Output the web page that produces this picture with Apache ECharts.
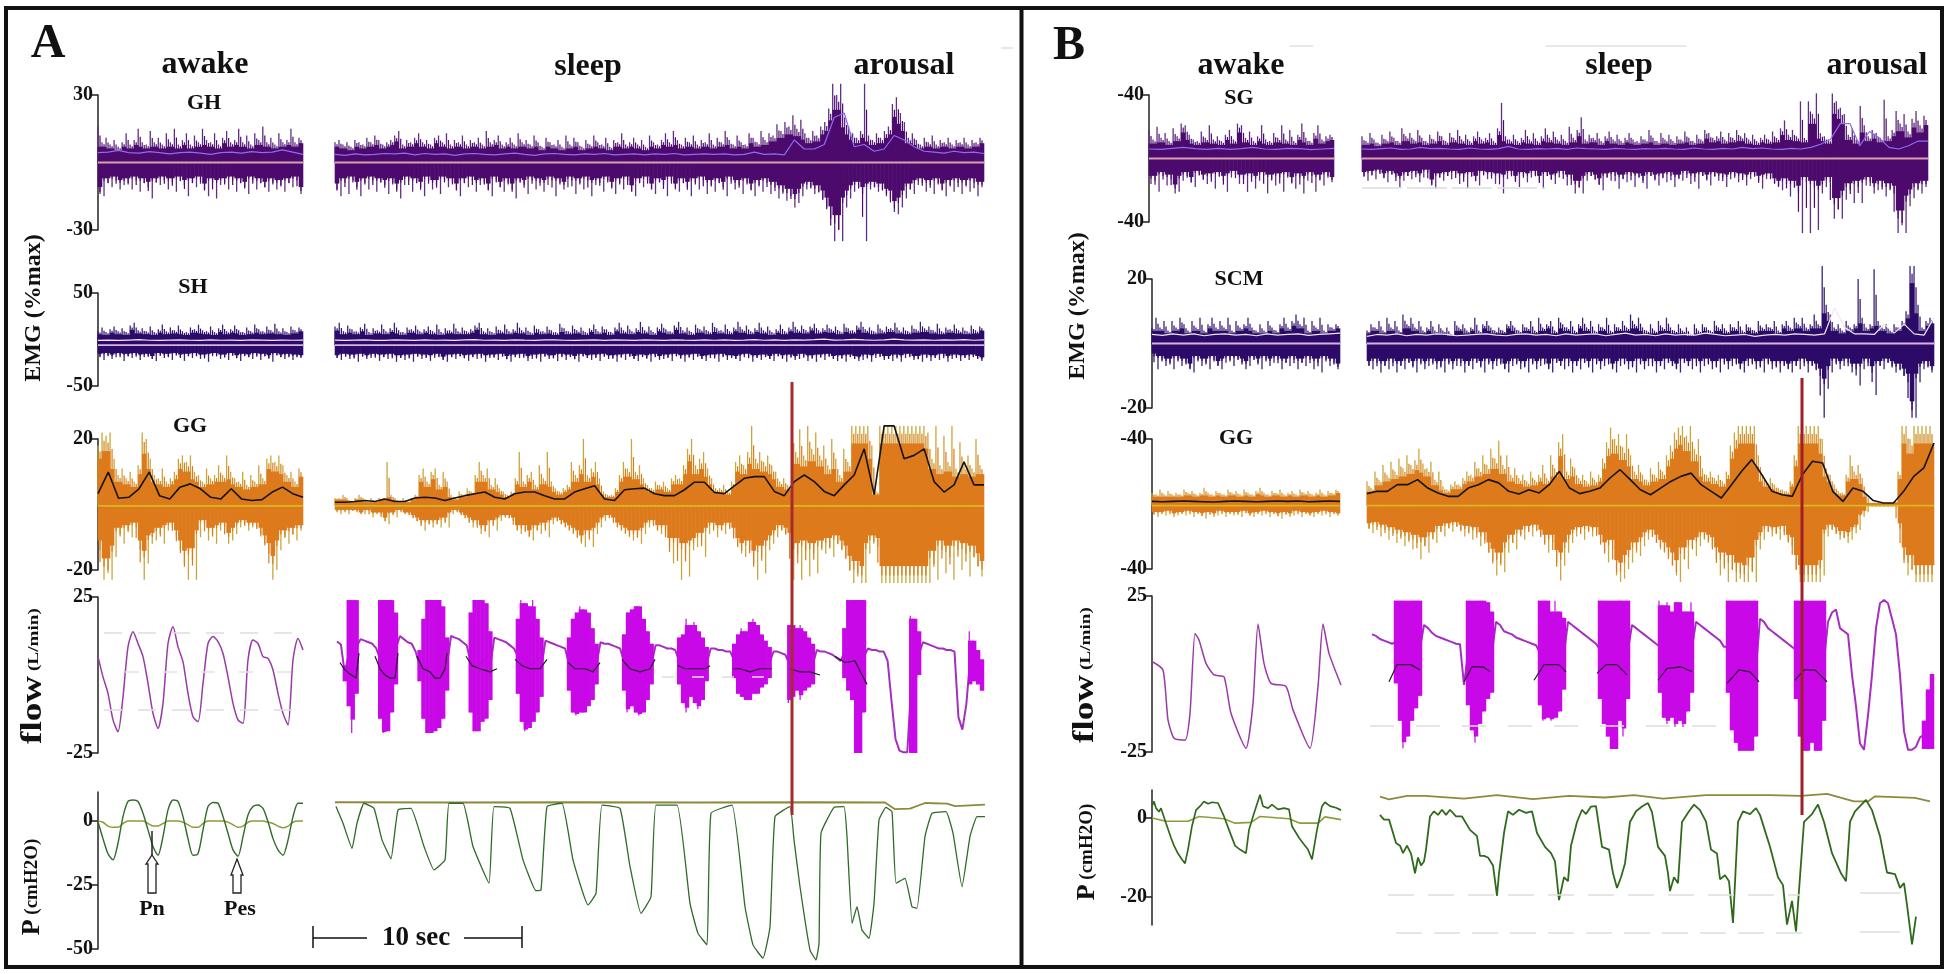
<!DOCTYPE html>
<html><head><meta charset="utf-8">
<style>html,body{margin:0;padding:0;background:#fff}#c{width:1950px;height:974px}</style>
<script src="https://cdn.jsdelivr.net/npm/echarts@6/dist/echarts.min.js"></script>
</head><body><div id="c"></div>
<script>
// ---------- Panel A : geniohyoid (GH), %max
const ghAwakeHi=[16,9,11,8,10,7,9,13,8,10,15,9,8,14,9,11,8,13,9,15,8,10,13,8,12,9,15,10,9,13,8,11,14,9,10,15,9,12,8,13,10,16,9,11,8,13,9,10,15,9,11];
const ghAwakeLo=[-14,-15,-9,-11,-8,-12,-10,-9,-12,-8,-13,-9,-11,-16,-9,-10,-8,-12,-9,-13,-8,-10,-15,-9,-11,-8,-12,-15,-9,-16,-10,-9,-12,-8,-13,-9,-11,-14,-8,-12,-9,-11,-13,-9,-12,-10,-13,-9,-11,-8,-14];
const ghSleepHi=[9,10,8,9,7,10,9,8,11,9,12,10,8,9,10,12,14,8,10,9,11,13,9,10,8,11,12,9,13,8,10,9,12,8,10,9,11,8,14,9,
10,12,8,9,11,8,13,9,10,8,12,9,7,11,9,8,10,7,12,8,11,9,7,10,8,12,9,8,11,7,10,9,13,8,9,11,8,10,7,12,
9,8,10,13,9,14,10,8,11,9,12,8,10,9,13,8,11,9,14,10,8,12,9,8,13,11,9,14,10,13,12,17,14,18,16,21,15,19,13,11,
14,12,16,18,24,35,30,35,20,16,13,11,14,35,12,10,13,11,14,16,26,29,22,18,11,13,10,8,11,9,12,8,10,9,11,8,10,9,11,8,10,9,11];
const ghSleepLo=[-12,-15,-9,-14,-8,-11,-15,-9,-12,-8,-13,-9,-10,-14,-9,-12,-16,-10,-8,-13,-9,-11,-15,-8,-12,-10,-14,-8,-11,-9,-12,-15,-9,-11,-8,-13,-10,-9,-12,-15,
-8,-11,-13,-9,-12,-16,-9,-10,-14,-8,-12,-9,-13,-10,-8,-15,-9,-12,-11,-8,-14,-9,-12,-8,-15,-10,-9,-13,-8,-11,-14,-9,-12,-8,-13,-15,-9,-11,-8,-12,
-14,-9,-10,-15,-8,-12,-13,-9,-11,-15,-9,-12,-8,-14,-10,-13,-9,-11,-15,-8,-12,-10,-14,-9,-12,-15,-10,-13,-9,-14,-11,-16,-13,-17,-15,-20,-18,-15,-12,-11,
-14,-13,-16,-20,-25,-35,-30,-35,-20,-16,-13,-11,-14,-35,-12,-11,-13,-12,-15,-16,-22,-23,-20,-16,-12,-14,-10,-9,-13,-10,-14,-9,-12,-15,-10,-13,-9,-14,-10,-13,-9,-15,-11];
const ghAwakeRms=[4.4,4.6,5.4,4.4,4.2,4.8,4.4,3.8,4.4,4.6,4.2,3.6,4.4,4.6,4.2,4.8,4.4,4.6,5.6,4.6,3.6];
const ghSleepRms=[3.6,3.2,3.8,3.4,3.6,4,3.8,4.2,3.4,4,3.6,3.8,3.2,3.8,4,3.6,3.4,3.8,4.2,3.6,3.2,3.8,4,3.6,3.4,3.8,3.6,4,3.4,3.6,3.8,3.4,3.8,3.6,4,3.4,3.6,3.8,3.6,3.8,3.4,3.6,4.6,3.6,3.8,3.4,10,6,6,8,20,22,7,8,5,6,12,10,7,5,4.6,4.2,5,4.4,4.6,4];
// SH
const shAwakeHi=[9,13,8,11,14,9,12,8,15,18,10,12,9,14,8,11,16,9,13,10,15,9,8,13,11,16,10,9,14,8,12,16,9,11,15,10,8,13,9,16,11,9,14,10,17,9,12,8,14,10,13];
const shAwakeLo=[-18,-22,-17,-21,-19,-17,-23,-18,-20,-17,-22,-19,-18,-21,-23,-17,-20,-18,-22,-17,-19,-23,-18,-20,-17,-21,-19,-24,-18,-17,-21,-19,-22,-17,-20,-23,-18,-19,-21,-17,-22,-18,-20,-24,-17,-19,-21,-18,-22,-19,-20];
const shSleepHi=[14,18,9,15,11,9,13,17,8,12,10,16,9,12,18,10,8,13,11,15,9,11,14,9,16,8,12,10,17,9,13,9,11,15,18,9,12,8,14,10,16,9,11,18,10,13,8,15,11,9,
14,10,8,17,12,9,15,10,13,8,12,16,9,14,11,8,13,18,10,15,9,12,19,10,14,8,13,17,11,9,15,19,10,13,8,16,11,14,9,18,12,10,16,9,13,19,11,15,9,12,
18,10,14,8,11,16,9,13,19,11,15,10,14,17,10,12,16,11,14,9,17,12,10,15,19,11,13,9,16,10,14,12,18,10,13,9,15,11,19,12,14,10,17,9,13,11,16,10,13,9,15,10,14];
const shSleepLo=[-20,-22,-18,-21,-19,-24,-18,-21,-20,-18,-23,-19,-21,-18,-24,-20,-22,-19,-24,-18,-21,-19,-23,-20,-18,-22,-24,-19,-21,-18,-20,-23,-19,-21,-18,-24,-20,-19,-22,-18,-21,-24,-19,-20,-18,-23,-21,-19,-24,-18,
-21,-20,-23,-18,-22,-19,-21,-24,-18,-20,-22,-19,-23,-18,-21,-20,-24,-19,-22,-18,-21,-23,-19,-20,-24,-18,-22,-21,-19,-23,-18,-20,-24,-19,-22,-18,-21,-23,-20,-19,-24,-18,-22,-20,-21,-23,-19,-18,-24,-20,
-22,-19,-21,-23,-18,-20,-24,-19,-22,-21,-18,-23,-20,-24,-19,-22,-18,-21,-23,-20,-24,-19,-21,-23,-22,-19,-24,-20,-18,-22,-21,-23,-19,-24,-20,-18,-22,-21,-24,-19,-23,-20,-22,-18,-24,-21,-19,-23,-20,-22,-19,-21,-23];
const shAwakeRms=[-1,-.6,-1,-.6,-.2,-.8,-1,-.6,-.4,-.8,-1,-.4,-.8,-.6,-1,-.5,-.7,-1,-.6,-.8,-.6];
const shSleepRms=[-.6,-1,-.6,-.3,-.9,-1,-.5,-.7,-1,-.4,-.8,-.6,-1,-.5,-.2,-.8,-.6,-1,-.4,-.7,-.9,-.5,-.3,-.8,-1,-.6,-.4,-.9,-.5,-.7,-1,-.4,-.6,-.9,-.3,-.7,-1,-.5,-.8,-.4,-.9,-.6,-.2,-.8,-.5,-1,-.4,-.7,-.2,.4,-.6,-.3,.2,-.5,-.8,-.3,.5,-.4,-.7,-.3,-.8,-.4,-.6,-.2,-.8,-.5];
// GG
const ggAwakeHi=[18,22,21,22,14,9,11,8,10,7,12,22,20,14,9,8,11,7,8,10,14,15,13,15,10,9,7,11,8,9,12,9,15,10,8,7,10,6,9,7,12,8,14,15,13,15,12,9,10,7,11];
const ggAwakeLo=[-14,-23,-21,-23,-16,-9,-12,-8,-10,-7,-14,-23,-18,-12,-11,-9,-12,-8,-7,-10,-14,-18,-23,-17,-23,-10,-6,-11,-9,-12,-8,-7,-12,-11,-9,-7,-6,-8,-7,-7,-9,-12,-15,-23,-20,-14,-10,-12,-9,-11,-8];
const ggSleepHi=[2,2,3,2,1,2,3,2,1,2,1,2,2,13,3,2,1,2,1,2,3,9,11,7,10,11,6,10,7,3,2,4,3,5,4,9,13,9,11,6,8,5,4,3,4,8,16,7,9,10,6,12,8,16,7,5,4,5,6,13,
9,12,20,9,11,13,8,4,3,3,5,9,13,11,20,10,12,8,6,5,7,6,7,5,8,9,8,12,17,20,12,14,16,11,8,5,5,6,4,7,13,15,12,16,24,14,16,13,15,12,10,7,8,6,
24,16,23,15,24,17,22,15,18,12,20,14,9,17,13,24,24,24,24,24,18,4,24,24,24,24,24,24,24,24,24,24,24,24,22,14,24,12,21,13,24,11,19,12,15,11,20,12];
const ggSleepLo=[-2,-3,-2,-3,-2,-2,-3,-3,-2,-4,-3,-3,-5,-6,-3,-4,-2,-3,-3,-4,-5,-6,-8,-6,-7,-6,-7,-5,-7,-3,-2,-3,-4,-5,-7,-6,-9,-8,-10,-6,-8,-5,-4,-4,-5,-8,-9,-8,-10,-11,-8,-9,-7,-10,-6,-5,-6,-7,-8,-9,
-10,-12,-13,-10,-13,-9,-7,-5,-4,-5,-7,-8,-9,-10,-11,-10,-12,-9,-7,-6,-8,-9,-8,-13,-18,-13,-23,-15,-22,-14,-13,-11,-16,-9,-7,-10,-8,-9,-7,-9,-13,-15,-16,-14,-18,-23,-16,-21,-14,-12,-10,-8,-9,-11,
-23,-15,-23,-14,-22,-15,-21,-14,-15,-13,-16,-12,-14,-16,-20,-24,-22,-24,-24,-15,-12,-13,-24,-24,-24,-24,-24,-24,-24,-24,-24,-24,-24,-24,-24,-18,-23,-14,-21,-16,-23,-14,-20,-15,-22,-16,-19,-22,-16];
const ggAwakeRms=[3.3,9.9,1.9,2.2,4.8,9.9,2.7,1.7,5.3,6.3,4.8,2.2,1.7,4.8,1.7,1.2,1.5,3.8,5.3,3.3,2.2];
const ggSleepRms=[.7,.7,.9,1.2,.9,1.7,.9,.9,2,2.2,2,1.2,2,2.7,3.3,3.8,2.2,1.7,3.3,3.8,3.8,2.7,1.7,1.7,3.8,4.8,5.7,1.7,1.2,4.5,4.8,5,3.3,2.7,2.7,4.5,6.8,6.8,3.7,3.3,5.7,8,8.5,8.5,4,2.7,7,9,7,4,2.7,6,9,17,3,24,24,14,15,17,7,3.8,6,13,6,6];
// Flow, L/min
const flowAwakeA=[5.9,-.6,-5.9,-14.4,-18.2,-7,9,13.9,10.1,5.9,-2.7,-12.3,-17.1,-9.1,10.1,15.5,9,4.2,-5.9,-13.4,-15,-2.7,10.1,12.3,10.7,6.9,-.6,-9.1,-14.4,-15.5,4.8,11.2,10.1,5.9,5.3,1.6,-5.9,-12.3,-16,4.8,11.7,8];
const flowSleepHiA=[11,10,3,24,24,24,12,11.5,11,10.5,9,24,24,24,24,20,13,12,11,10.5,8,8,18,24,24,24,24,22,12,13,12.5,12,11,10,20,24,24,24,23,14,12.5,12,11.5,11,10,9,18,24,23,22,24,18,12,11.5,11,10.5,10,9.5,9,12,18,20,22,21,20,15,10,11,10.5,10.5,10,9.5,9,13,20,21,22,22,18,14,10,10,10,9.5,9,9,8.5,12,13,18,16,17,14,12,9,9,9,8.5,8.5,8,8,10,13,15,14,17,18,16,13,11,9,8,8,7.5,7,16,18,15,16,14,12,10,8.5,8,8,7.5,7,6,5,15,24,24,24,24,24,9,8.5,8.5,8,8,5,-8,-20,-24,-24.5,-24.5,19,18,14,11,10.5,10,9.5,9,9,8.5,8.5,8,-13,-17,-9,14,11,8,5];
const flowSleepLoA=[10.5,9.5,-2,-10,-18.6,-6,11,10.5,10,9.5,8,-14,-18.6,-18,-12,-3,12,11,10,9.5,7,-2,-14,-18.6,-18.6,-18,-17,-14,-5,12,11.5,11,10,9,-12,-18,-18,-15,-14,-8,11.5,11,10.5,10,9,8,-6,-15,-18,-17,-15,-12,-7,10.5,10,9.5,9,8.5,8,-5,-12,-13,-12,-12,-10,-8,-3,10,9.5,9.5,9,8.5,8,-5,-12,-10,-12,-13,-12,-8,-3,9,9,8.5,8,8,7.5,-3,-9,-12,-7,-9,-11,-8,-2,8,8,7.5,7.5,7,7,-1,-6,-7,-8,-8,-6,-6,-4,-3,-1,7,7,6.5,6,-9,-7,-5,-8,-5,-4,-3,7.5,7,7,6.5,6,5,4,-1,-5,-8,-25,-25,-12,8,7.5,7.5,7,7,4,-9,-21,-24.5,-25,-25,-25,-25,0,10,9.5,9,8.5,8,8,7.5,7.5,7,-14,-18,-10,-3,-2,-3,-5];
const flowMeanA=[[5,4],[9,2],[14,.5],[21,-1],[24,7],[25,null],[40,6],[45,2],[50,0],[55,-1],[60,-1],[63,7],[64,null],[82,6],[88,2],[95,1],[100,-1],[105,-1],[110,2],[112,7],[113,null],[131,6],[137,3],[145,2],[155,1],[162,2],[163,null],[180,5],[187,3],[195,2],[205,2],[212,5],[213,null],[233,4],[240,2],[250,2],[258,1],[265,4],[266,null],[287,5],[295,2],[305,1],[315,2],[320,5],[321,null],[343,3],[350,2],[360,2],[370,2],[375,3],[376,null],[398,2],[405,2],[415,1],[425,2],[437,2],[438,null],[455,2],[465,1],[475,1],[485,0],[486,null],[500,6],[510,4],[520,4.5],[527,0],[532,-3]];
// Pressure, cmH2O
const pesAwakeA=[-.3,-6.9,-12.8,-15.2,-8.7,1.7,7.6,8.2,7.6,3,-3.5,-10,-13.4,-6.1,4.3,8.2,7.6,1.7,-6.9,-13.4,-12.8,-3.5,5.6,7.2,6.9,1.7,-4.8,-11.3,-13.8,-6.1,2.3,5.6,6.2,4.9,-.3,-6.9,-11.3,-13.4,-7.5,1.7,6.9,6.9];
const pnAwakeA=[0,-.5,-2,-2.5,-2.5,-1,0,0,0,0,-1,-2,-2,-1,0,0,0,-.5,-1.5,-2.5,-2.5,-1,0,0,0,0,-.5,-1.5,-2.5,-2,-.5,0,0,0,-.5,-1,-2,-2.7,-2,-.5,0,0];
const pesSleepA=[[1,5.6],[8,-.9],[17,-10.7],[22,-.9],[29,6.9],[39,4.9],[47,-7.4],[56,-14.8],[63,4.3],[76,4.9],[89,-10],[99,-19.1],[110,-15.2],[114,6.9],[128,6.9],[138,-10],[154,-24.3],[159,5.6],[175,4.9],[188,-15.2],[201,-27.2],[206,-27],[212,5.6],[227,6.9],[238,-15.2],[253,-32.8],[261,-28.3],[267,6.2],[285,4.9],[295,-17.8],[306,-36.1],[316,-29.6],[321,6.2],[342,6.2],[355,-32.2],[363,-43.9],[372,-48.4],[376,3],[397,6.2],[410,-33.5],[418,-48.4],[428,-53.6],[435,-41.3],[440,1.7],[455,5.6],[459,-7.4],[465,-25.7],[475,-50.4],[481,-54.3],[484,-47.8],[486,-4.8],[499,5.3],[509,5.6],[512,-6.1],[517,-40],[522,-33.5],[527,-42.6],[534,-45.8],[539,-32.2],[544,.4],[551,5.3],[557,3.6],[561,-24.3],[570,-22.4],[577,-33.5],[582,-34.1],[590,-6.1],[597,3],[611,3.6],[618,-4.8],[627,-25.7],[635,-6.1],[642,1.7],[650,1.7]];
const pnSleepA=[[0,7.3],[120,7.2],[240,7.3],[360,7.2],[480,7.3],[550,7.2],[560,4.6],[575,4.8],[590,7],[612,6.8],[620,5.8],[650,6.4]];
// ---------- Panel B : SG
const sgAwakeHi=[18,12,20,13,16,11,19,14,22,21,15,12,11,17,13,21,12,14,11,15,18,12,22,21,13,17,11,14,21,12,11,16,13,21,12,18,11,15,22,13,11,16,21,12,14,15];
const sgAwakeLo=[-16,-14,-21,-11,-17,-13,-22,-21,-14,-11,-15,-18,-10,-13,-16,-12,-19,-11,-14,-21,-12,-10,-16,-13,-21,-12,-19,-14,-11,-22,-13,-17,-12,-21,-11,-15,-19,-12,-22,-14,-11,-21,-13,-17,-11,-15];
const sgSleepHi=[14,11,16,12,10,15,12,17,13,11,19,14,16,12,18,13,11,15,12,17,14,11,16,13,18,12,15,11,14,17,12,13,16,11,19,35,14,12,15,11,13,18,12,16,11,14,19,13,17,12,15,11,20,13,18,26,12,15,13,16,11,14,17,12,15,11,13,16,12,11,14,12,18,13,11,16,12,15,11,14,12,17,13,11,15,12,18,16,13,14,17,12,16,13,18,14,16,12,15,11,13,15,12,17,13,19,24,15,18,14,36,13,36,28,41,16,14,12,41,36,32,28,15,19,12,33,21,14,18,16,13,37,14,18,30,22,28,17,25,30,21,27];
const sgSleepLo=[-11,-14,-10,-13,-9,-12,-15,-10,-12,-18,-14,-11,-13,-10,-15,-12,-9,-17,-19,-12,-14,-11,-13,-10,-16,-12,-19,-11,-14,-17,-10,-13,-11,-16,-12,-22,-13,-10,-14,-18,-11,-15,-12,-10,-14,-19,-11,-13,-16,-12,-10,-17,-13,-22,-18,-22,-14,-11,-13,-16,-20,-12,-14,-11,-19,-13,-15,-11,-18,-12,-14,-19,-11,-13,-17,-12,-15,-11,-18,-13,-14,-10,-16,-12,-19,-11,-13,-17,-11,-14,-12,-18,-13,-11,-15,-12,-17,-13,-11,-14,-19,-13,-12,-16,-18,-20,-16,-24,-18,-22,-47,-15,-47,-18,-45,-22,-18,-15,-38,-32,-38,-26,-20,-28,-18,-28,-17,-15,-22,-20,-18,-24,-20,-22,-47,-42,-47,-30,-25,-20,-22,-18];
const sgAwakeRms=[6,5.8,6.4,7,6.2,5.8,6.4,5.8,6.2,7,6,5.8,6.4,6.2,5.6,6,6.4];
const sgSleepRms=[6,5.8,6.2,6.6,5.8,6,7,6.2,6.4,6,5.8,6.6,6,5.8,6.2,7.6,6,5.8,6.2,6,6.4,5.8,6.6,6.2,6,5.8,6.4,6,5.8,6.2,6,6.4,6,5.8,6.6,6,5.8,6.4,6,7,6.2,6.6,6,5.8,6.4,6,7,9,12,22,22,8,17,13,7,6,8,11,11];
// SCM
const scmAwakeHi=[5,8,5,7,4,7,5,8,6,4,7,5,8,4,6,8,5,7,5,8,4,7,5,6,8,5,4,6,4,7,5,4,6,8,5,7,9,6,8,4,7,5,8,4,6,5,6];
const scmAwakeLo=[-4,-8,-5,-7,-6,-8,-5,-7,-6,-8,-9,-5,-7,-6,-8,-5,-7,-8,-6,-5,-7,-5,-6,-8,-7,-5,-6,-8,-5,-7,-6,-5,-8,-6,-7,-5,-8,-6,-7,-5,-8,-6,-9,-5,-7,-6,-8];
const scmSleepHi=[4,6,5,7,4,8,5,7,4,9,6,8,5,7,4,5,7,4,6,4,5,3,7,5,6,4,5,8,4,6,7,5,4,5,4,6,7,5,4,6,5,7,4,8,5,6,7,4,8,6,5,7,4,6,8,5,7,4,6,5,8,4,6,5,7,5,9,6,8,5,4,6,4,7,5,8,5,4,6,4,5,3,6,4,6,5,4,7,5,6,4,6,5,7,4,6,5,4,7,5,6,5,7,4,6,7,5,8,6,8,5,6,9,6,24,12,9,5,6,4,7,5,6,20,8,5,6,23,7,5,6,4,6,5,7,10,24,24,12,5,7,8];
const scmSleepLo=[-7,-8,-6,-9,-7,-8,-6,-9,-7,-8,-6,-7,-9,-6,-8,-7,-6,-8,-7,-9,-6,-8,-7,-6,-9,-7,-8,-6,-7,-9,-6,-8,-7,-6,-8,-9,-7,-6,-8,-7,-9,-6,-8,-7,-6,-8,-9,-6,-7,-8,-6,-9,-7,-8,-6,-7,-9,-6,-8,-7,-6,-8,-9,-7,-6,-8,-7,-9,-6,-8,-7,-6,-9,-7,-8,-6,-7,-8,-9,-6,-7,-8,-6,-9,-7,-6,-8,-7,-9,-6,-8,-7,-6,-8,-9,-7,-6,-8,-7,-9,-6,-8,-7,-9,-7,-8,-9,-7,-8,-6,-9,-7,-8,-10,-23,-14,-9,-6,-8,-7,-6,-9,-8,-13,-8,-6,-9,-16,-7,-8,-6,-7,-9,-8,-10,-12,-23,-23,-12,-8,-7,-9];
const scmAwakeRms=[2.8,2.5,3,2.6,3,2.4,2.8,3,2.6,2.8,2.4,3,2.6,2.8,3,2.5,2.8,3,3.2];
const scmSleepRms=[2.2,2.8,2.6,3,2.4,2.8,2.6,3,2.8,2.4,2.6,2.8,3,2.6,2.4,2.8,3,2.6,2.8,2.4,3,2.6,2.8,3,2.4,2.8,3.2,2.6,2.8,2.4,3,2.6,2.8,2.6,3.2,2.8,2.4,2.6,2.8,2.2,2.6,2.8,2.6,3,2.8,2.6,3,11,5,3,3,2.8,6,3.2,6,3,2.6,8];
// GG (B)
const ggbAwakeHi=[7,6,9,6,8,6,7,6,9,7,8,6,7,10,7,6,8,7,6,9,7,8,6,9,7,6,8,10,7,6,8,7,9,6,7,8,6,9,7,8,6,7,9,6,8,7,9];
const ggbAwakeLo=[-6,-8,-6,-7,-5,-8,-7,-6,-7,-5,-8,-6,-7,-9,-6,-8,-7,-5,-8,-6,-7,-6,-8,-5,-7,-8,-6,-7,-5,-8,-6,-7,-9,-6,-8,-7,-5,-8,-6,-7,-8,-6,-7,-5,-8,-6,-7];
const ggbSleepHi=[14,10,20,15,24,18,26,20,28,22,30,24,27,34,25,22,26,15,20,11,9,12,14,12,16,20,18,26,22,30,24,34,28,39,24,30,18,22,16,18,14,20,15,18,24,16,30,22,38,43,20,28,22,16,18,14,20,15,18,28,38,47,40,43,35,43,30,20,24,18,15,22,18,26,20,30,36,44,47,48,42,48,34,40,22,18,20,16,18,14,20,36,44,48,48,48,48,48,30,18,14,16,12,10,9,8,14,30,48,48,48,48,48,48,40,22,18,12,8,7,18,30,20,24,16,6,1,1,1,1,1,1,1.5,20,48,48,40,48,48,48,48,48];
const ggbSleepLo=[-15,-18,-14,-20,-16,-22,-18,-24,-20,-26,-22,-28,-24,-34,-26,-30,-22,-24,-17,-20,-15,-17,-14,-16,-20,-17,-22,-18,-26,-22,-30,-35,-44,-38,-42,-30,-24,-28,-20,-22,-17,-20,-16,-20,-24,-30,-24,-36,-47,-38,-30,-24,-20,-18,-22,-17,-20,-18,-24,-30,-36,-28,-44,-48,-46,-40,-36,-30,-32,-26,-22,-20,-24,-28,-30,-34,-38,-44,-48,-34,-40,-28,-32,-26,-22,-24,-26,-34,-44,-38,-48,-40,-48,-46,-48,-48,-42,-48,-28,-22,-17,-20,-18,-22,-17,-24,-26,-40,-48,-48,-48,-48,-48,-48,-44,-20,-16,-18,-22,-21,-24,-22,-18,-16,-8,-5,-1,-1,-1,-1,-1,-1,-1,-15,-34,-44,-40,-48,-48,-48,-48,-48];
const ggbAwakeRms=[1.6,1.4,1.6,1.8,1.6,1.4,1.2,1.6,1.8,1.6,1.4,1.6,1.8,1.6,1.8,1.4,1.6,1.8,1.6];
const ggbSleepRms=[6.4,7.8,7.8,11.9,11.9,15,9.8,6.8,4.7,4.7,9.8,11.9,15,13,7.8,6.2,8.8,6.8,11.9,20.1,9.8,6.4,7.8,9.8,16,21.1,15,8.8,5.7,9.8,13.9,17,19,11.9,7.8,3.7,11.9,20.1,27.3,18,7.8,5.7,4.7,18,26.3,25.2,7.8,1.6,9.8,7.8,2.1,.6,.6,7.8,17,22.2,37.5];
// Flow B
const flowAwakeB=[[0,4],[11,1.3],[16,-14.7],[22,-20.6],[33,-21.2],[38,-12.6],[43,13],[47,10.9],[54,3.4],[62,-.3],[72,-.9],[79,-12.6],[94,-23.8],[101,-9.4],[106,16],[112,3.4],[119,-3],[134,-4],[141,-11.5],[158,-23.8],[166,-4],[171,16],[177,6.6],[189,-3.5]];
const flowSleepHiB=[13,12.5,11.5,11,10.5,10,23.5,23.5,23.5,23.5,23.5,23.5,23.5,16,15,13.5,12.5,12,11.5,11,10.5,10,9.8,-3,23.5,23.5,23.5,23.5,23.5,23,20,17,16,14,13.5,13,12,11.5,11,10.5,10,9.5,23.5,23.5,23.5,20,23.5,20,18,17,16,15,14,13,12,11,10,23.5,23.5,23.5,23.5,23.5,23.5,23.5,23.5,16,15,14,13,12,11,10,23.5,22,23,20,23,23,20,20,23,17,16,15,14,13,12,11,9,23.5,23.5,23.5,23.5,23.5,23.5,23.5,23.5,18,17,15,14,13,12,11,10,9,23.5,23.5,23.5,23.5,23.5,23.5,23.5,23.5,17,20,21,15,14,13,0,-10,-22,-24,-13,0,15,23,24,23,18,13,0,-18,-24,-24,-23,-20,-15,-5,0];
const flowSleepLoB=[12.4,11.9,10.9,10.4,9.9,9.4,-3,-15,-23.8,-20,-15,-11,-7,15.4,14.4,12.9,11.9,11.4,10.9,10.4,9.9,9.4,9.2,-4,-10,-18,-22,-16,-12,-8,-6,16.4,15.4,13.4,12.9,12.4,11.4,10.9,10.4,9.9,9.4,8.9,-10,-15,-14,-15,-14,-12,-5,16.4,15.4,14.4,13.4,12.4,11.4,10.4,9.4,-8,-16,-20,-24,-24,-15,-20,-8,15.4,14.4,13.4,12.4,11.4,10.4,9.4,-6,-14,-16,-14,-17,-15,-17,-12,-6,16.4,15.4,14.4,13.4,12.4,11.4,10.4,8.4,-6,-18,-22,-24.6,-24.6,-24.6,-24.6,-20,17.4,16.4,14.4,13.4,12.4,11.4,10.4,9.4,8.4,-8,-20,-24.6,-24.6,-22,-24.6,-24.6,-15,16.4,19.4,20.4,14.4,13.4,12.4,-.6,-10.6,-22.6,-24.6,-13.6,-.6,14.4,22.4,23.4,22.4,17.4,12.4,-.6,-18.6,-24.6,-24.6,-23.6,-20.6,-24,-24,-24];
const flowMeanB=[[19,-2.5],[27,3],[41,3],[50,1.3],[51,null],[94,-2.5],[102,2.3],[113,2.3],[120,.7],[121,null],[164,-2],[174,3],[189,3],[196,.7],[197,null],[227,.2],[236,3],[247,3],[257,-.3],[258,null],[288,-2],[297,1.8],[311,2.3],[322,.7],[323,null],[357,-3],[369,1.3],[380,.7],[389,-2.5],[390,null],[425,-2],[434,1.3],[445,1.3],[457,-2.5]];
// Pressure B
const pesAwakeB=[[0,3],[2,4.2],[4,2.5],[7,1.6],[9,2.5],[14,-1.3],[19,-5],[22,-7],[26,-9],[30,-10.5],[33,-11.5],[36,-8],[40,-2],[44,2],[48,3],[52,4.2],[56,3.6],[60,4],[66,3.8],[72,.4],[77,-3],[83,-7],[88,-8],[90,-7.5],[94,-8.9],[97,-3],[101,.4],[108,5.9],[111,3],[116,2.5],[120,3.4],[126,2.2],[132,2.5],[137,2.2],[140,-2.1],[147,-5],[153,-7],[156,-8],[160,-10.5],[165,-3],[170,3],[173,4],[178,3],[184,2.6],[189,2]];
const pnAwakeB=[[0,0],[14,-.8],[36,-.8],[47,.4],[72,-.2],[83,-1.3],[99,-1.1],[108,.4],[137,-.2],[148,-1.3],[166,-1.3],[173,.3],[189,-.4]];
const pesSleepB=[[0,.8],[4,-.4],[9,-.4],[16,-6.3],[20,-7],[23,-8.9],[27,-7],[31,-9],[35,-14],[38,-10],[41,-12],[44,-11],[46,-8],[50,.4],[54,1.7],[58,.8],[62,2.1],[66,.8],[70,2.1],[76,.4],[82,.4],[90,-3],[97,-4.6],[100,-9.6],[104,-9.6],[108,-10],[113,-12],[117,-19.7],[119,-14],[124,-3.8],[128,1.7],[133,.8],[139,2.1],[146,1.3],[152,1.7],[157,-3.8],[165,-7.3],[171,-8.9],[175,-11],[179,-20.8],[184,-15],[188,-16],[191,-7],[197,-1],[202,2.1],[206,1],[211,2.9],[216,3],[222,-7.3],[229,-8],[233,-14],[237,-17.7],[241,-15],[245,-11.5],[250,-1],[256,1.7],[262,2.9],[268,3.8],[272,1.5],[278,-7.3],[285,-9.6],[288,-14],[290,-18.5],[294,-15],[298,-16.5],[302,-1],[309,1.7],[314,3.4],[320,2],[326,-.9],[331,-8],[337,-9],[340,-15.5],[345,-14.5],[349,-16],[353,-26.6],[358,-1],[363,1.7],[370,1],[376,2.5],[380,.8],[390,-7.3],[398,-15],[403,-17],[407,-27],[412,-21],[416,-28.7],[424,-1],[432,1],[438,3.4],[444,-1],[452,-8.9],[461,-14],[466,-16],[470,-1],[475,1.7],[486,4.6],[492,2],[500,-4.6],[507,-13.8],[515,-14.2],[520,-17.7],[524,-16.5],[527,-22],[532,-32],[536,-25]];
const pnSleepB=[[0,5.4],[9,4.7],[27,5.6],[45,5.6],[84,4.9],[117,5.8],[153,4.8],[189,5.6],[225,5.2],[254,5.8],[283,4.9],[326,5.8],[389,5.8],[421,5.6],[447,6.1],[474,4.2],[488,4.2],[495,5.5],[535,5.1],[550,4.2]];
// Axis ticks and their labels
const ghTicks=[-30,30], ghLabels=['-30','30'];
const shTicks=[-50,50], shLabels=['-50','50'];
const ggTicks=[-20,20], ggLabels=['-20','20'];
const sgTicks=[-40,40], sgLabels=['-40','-40'];
const scmTicks=[-20,20], scmLabels=['-20','20'];
const ggbTicks=[-40,40], ggbLabels=['-40','-40'];
const flowTicks=[-25,25], flowLabels=['-25','25'];
const pATicks=[-50,-25,0], pALabels=['-50','-25','0'];
const pBTicks=[-20,0], pBLabels=['-20','0'];

const FONT='"Liberation Serif","Times New Roman",serif';
const grids=[],xAxes=[],yAxes=[],series=[];
function panel(left,width,top,bottom,min,max,ticks,labels,showAxis){
  const id=grids.length;
  grids.push({left,width,top,height:bottom-top});
  xAxes.push({type:'value',gridIndex:id,min:0,max:width,show:false});
  const lab=Object.fromEntries(ticks.map((t,i)=>[t,labels[i]]));
  yAxes.push({type:'value',gridIndex:id,min,max,show:showAxis,
    axisLine:{show:true,onZero:false,lineStyle:{color:'#222',width:1.5}},
    axisTick:{show:true,length:6,customValues:ticks,lineStyle:{color:'#222',width:1.5}},
    axisLabel:{show:true,customValues:ticks,margin:5,color:'#111',fontFamily:FONT,fontWeight:'bold',fontSize:20,formatter:v=>lab[v]},
    splitLine:{show:false}});
  return id;
}
const line=(id,data,color,w,z,smooth)=>series.push({type:'line',xAxisIndex:id,yAxisIndex:id,data,showSymbol:false,symbol:'none',clip:false,smooth:smooth||false,animation:false,silent:true,z:z||2,connectNulls:false,lineStyle:{color,width:w}});
// Vertical range marks [x, top value, bottom value], placed by the axes
function ranges(id,data,w,col,z){
  series.push({type:'custom',coordinateSystem:'cartesian2d',xAxisIndex:id,yAxisIndex:id,data,clip:false,silent:true,animation:false,z,
    encode:{x:0,y:[1,2]},
    renderItem:(p,api)=>{
      const a=api.coord([api.value(0),api.value(1)]),b=api.coord([api.value(0),api.value(2)]);
      return {type:'rect',silent:true,shape:{x:a[0]-w/2,y:a[1],width:w,height:Math.max(b[1]-a[1],1)},style:{fill:col}};
    }});
}
const uniform=(a,width)=>a.map((v,i)=>[i*width/(a.length-1),v]);
function emgMarks(id,hi,lo,width,o){
  const n=Math.min(hi.length,lo.length),st=width/n,body=[],up=[],dn=[],fine=[];
  for(let i=0;i<n;i++){
    const nx=Math.min(i+1,n-1);
    const h=Math.min(hi[i],hi[nx]),l=Math.max(lo[i],lo[nx]);
    const bh=o.base+(h-o.base)*.78,bl=o.base+(l-o.base)*.78;
    body.push([(i+.5)*st,bh,bl]);
    up.push([i*st,hi[i],o.base]);
    dn.push([(i+.5)*st,o.base,lo[i]]);
    fine.push([(i+.5)*st,bh+(hi[i]-bh)*.55,bl+(lo[nx]-bl)*.55]);
  }
  ranges(id,up,1.3,o.tip,2);
  ranges(id,dn,1.3,o.tip,2);
  ranges(id,fine,1.2,o.body,3);
  ranges(id,body,st+.6,o.body,3);
}
function emgRow(o){
  [[o.ax0,o.ax1,o.aHi,o.aLo,o.aRms,true],[o.sx0,o.sx1,o.sHi,o.sLo,o.sRms,false]].forEach(([x0,x1,hi,lo,rms,showA])=>{
    const w=x1-x0,id=panel(x0,w,o.top,o.bottom,o.min,o.max,o.ticks,o.labels,showA);
    emgMarks(id,hi,lo,w,o);
    line(id,[[0,o.base],[w,o.base]],o.baseCol,1.8,4);
    line(id,uniform(rms,w),o.rmsCol,o.rmsW||1.2,5);
  });
}
// Breathing trace: a connected line between the high-frequency bursts, solid bursts with fine tips
function flowMarks(id,hi,lo,width){
  const n=Math.min(hi.length,lo.length),st=width/n,mid=[],body=[],tips=[];
  for(let i=0;i<n;i++){
    const x=(i+.5)*st;
    mid.push([x,(hi[i]+lo[i])/2]);
    if(hi[i]-lo[i]>4){
      const pv=Math.max(i-1,0),nx=Math.min(i+1,n-1);
      const tp=Math.min(hi[i],Math.max(hi[pv],hi[nx])),bt=Math.max(lo[i],Math.min(lo[pv],lo[nx]));
      body.push([x,tp,bt+(lo[i]-bt)*.5]);
      tips.push([x-st/4,hi[i],lo[i]]);
      tips.push([x+st/4,Math.min(hi[i],hi[nx]),Math.max(lo[i],lo[nx])]);
    }
  }
  line(id,mid,'#a52fc0',2,2);
  ranges(id,tips,1.2,'#c010dc',3);
  ranges(id,body,st+.5,'#c808e6',3);
}
const PUR={tip:'#5f2f86',body:'#4b0a6c',baseCol:'#dba0ae',rmsCol:'#8f6bf2'};
const IND={tip:'#3b2378',body:'#2b0a68',baseCol:'#d9b3e0',rmsCol:'#f1e6f2'};
const ORG={tip:'#c9a63a',body:'#dd7a1c',baseCol:'#d8b81f',rmsCol:'#141414',rmsW:1.6};
// Panel A rows
emgRow({...PUR,ax0:98,ax1:303,sx0:335,sx1:984,top:95,bottom:230,min:-30,max:30,ticks:ghTicks,labels:ghLabels,aHi:ghAwakeHi,aLo:ghAwakeLo,aRms:ghAwakeRms,sHi:ghSleepHi,sLo:ghSleepLo,sRms:ghSleepRms,base:0});
emgRow({...IND,ax0:98,ax1:303,sx0:335,sx1:984,top:293,bottom:386,min:-50,max:50,ticks:shTicks,labels:shLabels,aHi:shAwakeHi,aLo:shAwakeLo,aRms:shAwakeRms,sHi:shSleepHi,sLo:shSleepLo,sRms:shSleepRms,base:-6});
emgRow({...ORG,ax0:98,ax1:303,sx0:335,sx1:984,top:439,bottom:570,min:-20,max:20,ticks:ggTicks,labels:ggLabels,aHi:ggAwakeHi,aLo:ggAwakeLo,aRms:ggAwakeRms,sHi:ggSleepHi,sLo:ggSleepLo,sRms:ggSleepRms,base:-.4});
// Panel A flow and pressure
let id=panel(98,205,597,753,-25,25,flowTicks,flowLabels,true);
line(id,uniform(flowAwakeA,205),'#9a3aa8',1.5,2,.25);
id=panel(335,649,597,753,-25,25,flowTicks,flowLabels,false);
flowMarks(id,flowSleepHiA,flowSleepLoA,649);
line(id,flowMeanA,'#2a1030',1.2,4);
id=panel(98,205,792,949,-50,11.3,pATicks,pALabels,true);
line(id,uniform(pnAwakeA,205),'#8f9a3a',1.5,2,.3);
line(id,uniform(pesAwakeA,205),'#2f6a28',1.4,3,.25);
id=panel(335,649,792,949,-50,11.3,pATicks,pALabels,false);
line(id,pnSleepA,'#8c8a3c',1.8,2);
line(id,pesSleepA,'#2f6a28',1.3,3,.12);
// Panel B rows
emgRow({...PUR,ax0:1149,ax1:1334,sx0:1362,sx1:1928,top:95,bottom:222,min:-40,max:40,ticks:sgTicks,labels:sgLabels,aHi:sgAwakeHi,aLo:sgAwakeLo,aRms:sgAwakeRms,sHi:sgSleepHi,sLo:sgSleepLo,sRms:sgSleepRms,base:0});
emgRow({...IND,ax0:1152,ax1:1340,sx0:1367,sx1:1934,top:279,bottom:408,min:-20,max:20,ticks:scmTicks,labels:scmLabels,aHi:scmAwakeHi,aLo:scmAwakeLo,aRms:scmAwakeRms,sHi:scmSleepHi,sLo:scmSleepLo,sRms:scmSleepRms,base:0});
emgRow({...ORG,ax0:1152,ax1:1340,sx0:1367,sx1:1934,top:439,bottom:569,min:-40,max:40,ticks:ggbTicks,labels:ggbLabels,aHi:ggbAwakeHi,aLo:ggbAwakeLo,aRms:ggbAwakeRms,sHi:ggbSleepHi,sLo:ggbSleepLo,sRms:ggbSleepRms,base:-1});
// Panel B flow and pressure
id=panel(1152,189,596,752,-25,25,flowTicks,flowLabels,true);
line(id,flowAwakeB,'#9a3aa8',1.5,2,.2);
id=panel(1370,564,596,752,-25,25,flowTicks,flowLabels,false);
flowMarks(id,flowSleepHiB,flowSleepLoB,564);
line(id,flowMeanB,'#2a1030',1.2,4);
id=panel(1152,189,790,925,-27.1,7.1,pBTicks,pBLabels,true);
line(id,pnAwakeB,'#8f9a3a',1.6,2);
line(id,pesAwakeB,'#2f6a1c',1.7,3);
id=panel(1380,555,790,925,-27.1,7.1,pBTicks,pBLabels,false);
line(id,pnSleepB,'#8c8a3c',1.8,2);
line(id,pesSleepB,'#2f6a1c',1.8,3);

// Text and annotation layer
const T=(text,x,y,size)=>({type:'text',x,y,z:30,silent:true,style:{text,font:`bold ${size}px ${FONT}`,fill:'#111',align:'center',verticalAlign:'middle'}});
const L=(x1,y1,x2,y2,w,c,dash)=>({type:'line',z:20,silent:true,shape:{x1,y1,x2,y2},style:{stroke:c||'#111',lineWidth:w,lineDash:dash||null}});
const V=(text,x,y,rich,sx)=>({type:'text',x,y,z:30,silent:true,rotation:Math.PI/2,scaleX:sx||1,style:{text,rich,fill:'#111',align:'center',verticalAlign:'middle'}});
const richStyle=(a,b)=>({a:{font:`bold ${a}px ${FONT}`,fill:'#111'},b:{font:`bold ${b}px ${FONT}`,fill:'#111'}});
const graphics=[
  {type:'rect',z:18,silent:true,shape:{x:6,y:8,width:1936,height:959},style:{fill:'none',stroke:'#111',lineWidth:4}},
  L(1021.5,8,1021.5,967,4),
  T('A',48,45,48),T('B',1069,47,48),
  T('awake',205,65,32),T('sleep',588,67,32),T('arousal',904,66,32),
  T('awake',1241,66,32),T('sleep',1619,66,32),T('arousal',1877,66,32),
  T('GH',204,103,22),T('SH',193,287,22),T('GG',190,426,22),
  T('SG',1239,98,22),T('SCM',1239,279,22),T('GG',1236,438,22),
  V('{a|EMG (%max)}',34,308,richStyle(24,24)),V('{a|EMG (%max)}',1078,306,richStyle(24,24)),
  V('{a|flow}{b| (L/min)}',34,676,richStyle(29,15),1.28),V('{a|flow}{b| (L/min)}',1086,675,richStyle(29,15),1.28),
  V('{a|P}{b| (cmH2O)}',32,887,richStyle(26,19)),V('{a|P}{b| (cmH2O)}',1087,852,richStyle(26,19)),
  L(792,382,792,815,3,'#a62a2e'),L(1802,378,1802,815,3,'#a11f24'),
  L(313,926,313,948,1.5),L(522,926,522,948,1.5),L(313,938,367,938,1.5),L(464,938,522,938,1.5),
  T('10 sec',416,938,27),
  {type:'line',z:21,silent:true,shape:{x1:152,y1:831,x2:152,y2:856},style:{stroke:'#222',lineWidth:1.5}},
  {type:'polygon',z:22,silent:true,shape:{points:[[152,855],[158,864],[156,864],[156,893],[148,893],[148,864],[146,864]]},style:{fill:'#fff',stroke:'#222',lineWidth:1.3}},
  {type:'polygon',z:22,silent:true,shape:{points:[[237,859],[243,875],[241,875],[241,893],[233,893],[233,875],[231,875]]},style:{fill:'#fff',stroke:'#222',lineWidth:1.3}},
  T('Pn',152,909,22),T('Pes',240,909,22),
  // faint grid remnants
  L(104,633,303,633,1.5,'#ddd',[18,16]),L(125,672,303,672,1.5,'#e2e2e2',[14,24]),L(104,710,303,710,1.5,'#ddd',[18,16]),
  L(662,677,780,677,1.5,'#ddd',[12,18]),
  L(1546,46,1686,46,1.5,'#e0e0e0'),L(1290,46,1313,46,1.5,'#e0e0e0'),L(1001,48,1013,48,1.5,'#e0e0e0'),
  L(1362,188,1545,188,1.5,'#ddd',[40,5]),
  L(1370,726,1720,726,1.5,'#ddd',[24,22]),
  L(1388,895,1800,895,1.5,'#ddd',[26,14]),L(1860,893,1900,893,1.5,'#ddd'),
  L(1396,933,1805,933,1.5,'#ddd',[26,12]),L(1860,932,1900,932,1.5,'#ddd')
];
const chart=echarts.init(document.getElementById('c'),null,{renderer:'canvas',width:1950,height:974});
chart.setOption({backgroundColor:'#fff',animation:false,tooltip:{show:false},legend:{show:false},
  grid:grids,xAxis:xAxes,yAxis:yAxes,series,graphic:{elements:graphics}});
</script></body></html>
